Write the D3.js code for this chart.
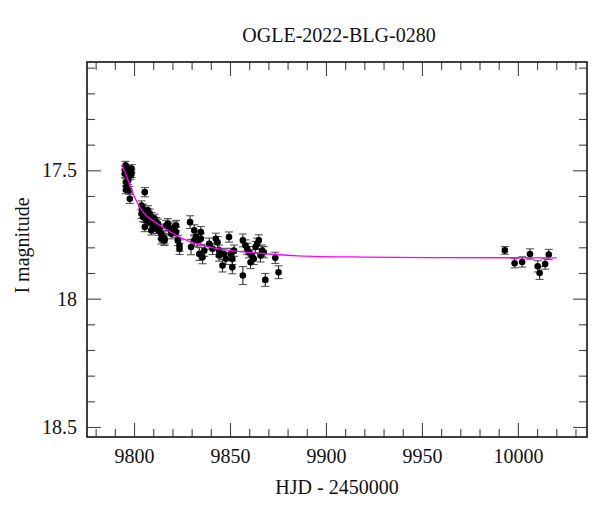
<!DOCTYPE html>
<html>
<head>
<meta charset="utf-8">
<script src="https://cdn.jsdelivr.net/npm/d3@7"></script>
<style>
html,body{margin:0;padding:0;background:#fff;}
svg text{font-family:"Liberation Serif","DejaVu Serif",serif;fill:#111;}
</style>
</head>
<body>
<svg id="chart" width="600" height="512"></svg>
<script>
// ---- data ----
const title = "OGLE-2022-BLG-0280";
const xLabel = "HJD - 2450000";
const yLabel = "I magnitude";

const hjd = [
  9795.6, 9796.5, 9797.8, 9798.7, 9797.0, 9795.8, 9796.1, 9797.5, 9795.8, 9797.8, 9798.7, 9795.2, 9796.8, 9798.2, 9795.4,
  9805.6, 9803.9, 9804.7, 9805.6, 9804.7, 9806.4, 9807.3, 9808.2, 9809.0, 9809.9, 9810.7, 9811.6, 9812.5, 9805.6, 9809.0,
  9813.3, 9814.2, 9815.0, 9815.9, 9816.8, 9817.6, 9818.5, 9819.4, 9820.2, 9821.1, 9821.9, 9821.9, 9822.8, 9823.7, 9823.7,
  9814.2, 9815.9, 9806.4, 9803.9, 9809.9, 9811.6, 9807.8, 9812.9, 9804.3, 9806.9,
  9829.2, 9829.7, 9831.4, 9832.3, 9833.1, 9831.4, 9834.8, 9834.8, 9834.0, 9835.7, 9836.6,
  9839.2, 9840.9, 9842.6, 9843.5, 9844.3, 9844.3, 9846.1, 9846.9, 9847.8, 9849.5, 9850.4, 9851.2, 9851.2, 9852.1,
  9856.7, 9856.7, 9858.1, 9859.0, 9859.8, 9860.7, 9861.5, 9862.4, 9863.3, 9864.1, 9865.0, 9865.9, 9866.7, 9867.6,
  9868.4, 9873.6, 9875.3,
  9993.2, 9998.3, 10002.2, 10006.3, 10010.3, 10011.3, 10014.2, 10016.1
];
const imag = [
  17.480, 17.497, 17.507, 17.513, 17.526, 17.546, 17.565, 17.578, 17.576, 17.611, 17.493, 17.513, 17.540, 17.520, 17.500,
  17.585, 17.637, 17.650, 17.663, 17.682, 17.676, 17.656, 17.669, 17.682, 17.695, 17.689, 17.702, 17.708, 17.721, 17.734,
  17.728, 17.747, 17.760, 17.767, 17.715, 17.708, 17.728, 17.747, 17.734, 17.721, 17.715, 17.741, 17.773, 17.793, 17.806,
  17.767, 17.773, 17.695, 17.669, 17.715, 17.728, 17.700, 17.735, 17.655, 17.690,
  17.702, 17.799, 17.734, 17.760, 17.773, 17.773, 17.741, 17.767, 17.826, 17.839, 17.813,
  17.786, 17.806, 17.767, 17.780, 17.813, 17.832, 17.871, 17.826, 17.845, 17.760, 17.826, 17.845, 17.878, 17.813,
  17.773, 17.910, 17.793, 17.806, 17.819, 17.858, 17.832, 17.845, 17.799, 17.786, 17.773, 17.832, 17.813, 17.819,
  17.927, 17.841, 17.897,
  17.812, 17.862, 17.857, 17.826, 17.874, 17.900, 17.865, 17.828
];
const ierr = [
  0.015, 0.015, 0.015, 0.015, 0.015, 0.015, 0.015, 0.015, 0.015, 0.018, 0.015, 0.015, 0.015, 0.015, 0.015,
  0.018, 0.018, 0.018, 0.018, 0.018, 0.018, 0.018, 0.018, 0.018, 0.018, 0.018, 0.018, 0.018, 0.018, 0.018,
  0.018, 0.020, 0.020, 0.020, 0.020, 0.020, 0.020, 0.020, 0.020, 0.020, 0.020, 0.020, 0.020, 0.022, 0.022,
  0.020, 0.020, 0.018, 0.018, 0.018, 0.018, 0.018, 0.018, 0.018, 0.018,
  0.025, 0.030, 0.022, 0.022, 0.022, 0.022, 0.022, 0.022, 0.025, 0.025, 0.022,
  0.022, 0.022, 0.022, 0.022, 0.022, 0.022, 0.025, 0.022, 0.022, 0.020, 0.022, 0.022, 0.025, 0.022,
  0.025, 0.035, 0.022, 0.022, 0.022, 0.025, 0.022, 0.022, 0.022, 0.022, 0.022, 0.025, 0.022, 0.022,
  0.025, 0.022, 0.025,
  0.015, 0.018, 0.020, 0.020, 0.022, 0.025, 0.020, 0.020
];

// model curve
const modelHjd = [9793.6, 9796.0, 9799.5, 9802.0, 9804.7, 9810.0, 9815.0, 9823.7, 9832.3, 9840.0, 9849.5, 9868.4, 9885.6, 9920.0, 9960.0, 10020.2];
const modelMag = [17.477, 17.520, 17.591, 17.630, 17.663, 17.697, 17.721, 17.760, 17.786, 17.800, 17.812, 17.825, 17.833, 17.838, 17.840, 17.841];

const xMajorTicks = [9800, 9850, 9900, 9950, 10000];
const xTickLabels = ["9800", "9850", "9900", "9950", "10000"];
const xMinorTicks = [9780, 9790, 9810, 9820, 9830, 9840, 9860, 9870, 9880, 9890, 9910, 9920, 9930, 9940, 9960, 9970, 9980, 9990, 10010, 10020, 10030];
const yMajorTicks = [17.5, 18, 18.5];
const yTickLabels = ["17.5", "18", "18.5"];
const yMinorTicks = [17.1, 17.2, 17.3, 17.4, 17.6, 17.7, 17.8, 17.9, 18.1, 18.2, 18.3, 18.4];

// ---- layout ----
const L = 87, R = 587, T = 62, B = 437;
const svg = d3.select("#chart");

const x = d3.scaleLinear().domain([9775.5, 10036]).range([L, R]);
const y = d3.scaleLinear().domain([17.078, 18.539]).range([T, B]);

const majorLen = 14, minorLen = 8;
const tickColor = "#444";

function styleAxis(g) {
  g.select(".domain").remove();
  g.selectAll(".tick line").attr("stroke", tickColor).attr("stroke-width", 1.1);
}

// bottom
svg.append("g").attr("transform", `translate(0,${B})`)
  .call(d3.axisBottom(x).tickValues(xMajorTicks).tickSize(-majorLen).tickPadding(12)
    .tickFormat((d, i) => xTickLabels[i]))
  .call(styleAxis)
  .call(g => g.selectAll("text").attr("font-size", 20).attr("fill", "#111")
    .attr("font-family", "Liberation Serif, serif"));
svg.append("g").attr("transform", `translate(0,${B})`)
  .call(d3.axisBottom(x).tickValues(xMinorTicks).tickSize(-minorLen).tickFormat(""))
  .call(styleAxis);
// top
svg.append("g").attr("transform", `translate(0,${T})`)
  .call(d3.axisTop(x).tickValues(xMajorTicks).tickSize(-majorLen).tickFormat(""))
  .call(styleAxis);
svg.append("g").attr("transform", `translate(0,${T})`)
  .call(d3.axisTop(x).tickValues(xMinorTicks).tickSize(-minorLen).tickFormat(""))
  .call(styleAxis);
// left
svg.append("g").attr("transform", `translate(${L},0)`)
  .call(d3.axisLeft(y).tickValues(yMajorTicks).tickSize(-majorLen).tickPadding(10)
    .tickFormat((d, i) => yTickLabels[i]))
  .call(styleAxis)
  .call(g => g.selectAll("text").attr("font-size", 20).attr("fill", "#111")
    .attr("font-family", "Liberation Serif, serif"));
svg.append("g").attr("transform", `translate(${L},0)`)
  .call(d3.axisLeft(y).tickValues(yMinorTicks).tickSize(-minorLen).tickFormat(""))
  .call(styleAxis);
// right
svg.append("g").attr("transform", `translate(${R},0)`)
  .call(d3.axisRight(y).tickValues(yMajorTicks).tickSize(-majorLen).tickFormat(""))
  .call(styleAxis);
svg.append("g").attr("transform", `translate(${R},0)`)
  .call(d3.axisRight(y).tickValues(yMinorTicks).tickSize(-minorLen).tickFormat(""))
  .call(styleAxis);

// frame
svg.append("rect").attr("x", L).attr("y", T).attr("width", R - L).attr("height", B - T)
  .attr("fill", "none").attr("stroke", "#111").attr("stroke-width", 1.6);

// data
const pts = hjd.map((d, i) => ({ t: d, m: imag[i], e: ierr[i] }));
const eb = svg.append("g").attr("stroke", "#222").attr("stroke-width", 1.1);
eb.selectAll("line.v").data(pts).join("line").attr("class", "v")
  .attr("x1", d => x(d.t)).attr("x2", d => x(d.t))
  .attr("y1", d => y(d.m - d.e)).attr("y2", d => y(d.m + d.e));
eb.selectAll("line.c1").data(pts).join("line").attr("class", "c1")
  .attr("x1", d => x(d.t) - 4).attr("x2", d => x(d.t) + 4)
  .attr("y1", d => y(d.m - d.e)).attr("y2", d => y(d.m - d.e)).attr("stroke", "#555");
eb.selectAll("line.c2").data(pts).join("line").attr("class", "c2")
  .attr("x1", d => x(d.t) - 4).attr("x2", d => x(d.t) + 4)
  .attr("y1", d => y(d.m + d.e)).attr("y2", d => y(d.m + d.e)).attr("stroke", "#555");
svg.append("g").selectAll("circle").data(pts).join("circle")
  .attr("cx", d => x(d.t)).attr("cy", d => y(d.m)).attr("r", 3.3).attr("fill", "#000");

// model
const model = modelHjd.map((d, i) => [d, modelMag[i]]);
svg.append("path").datum(model)
  .attr("fill", "none").attr("stroke", "#ff00ff").attr("stroke-width", 1.3)
  .attr("d", d3.line().x(d => x(d[0])).y(d => y(d[1])).curve(d3.curveMonotoneX));

// titles
svg.append("text").attr("x", (L + R) / 2 + 2).attr("y", 42).attr("text-anchor", "middle")
  .attr("font-size", 20).text(title);
svg.append("text").attr("x", (L + R) / 2).attr("y", 494).attr("text-anchor", "middle")
  .attr("font-size", 20).text(xLabel);
svg.append("text").attr("transform", `translate(29,${(T + B) / 2 - 4}) rotate(-90)`)
  .attr("text-anchor", "middle").attr("font-size", 20).text(yLabel);
</script>
</body>
</html>
